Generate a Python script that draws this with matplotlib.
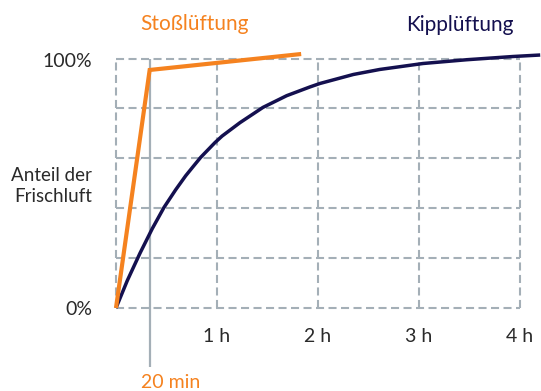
import matplotlib
matplotlib.use("Agg")
import matplotlib.pyplot as plt

plt.rcParams["font.family"] = ["Lato", "DejaVu Sans"]
plt.rcParams["lines.scale_dashes"] = False

# Fresh-air share (%) over time (hours)
stoss_t = [0.0, 20 / 60, 110 / 60]
stoss_p = [0.0, 95.4, 101.8]

kipp_t = [0.0, 0.112, 0.238, 0.359, 0.475, 0.591, 0.690, 0.762, 0.839, 0.98,
          1.05, 1.228, 1.455, 1.69, 1.92, 2.02, 2.35, 2.61, 3.04, 3.47,
          3.93, 4.20]
kipp_p = [0.0, 11.0, 22.0, 31.8, 40.3, 47.4, 53.0, 56.6, 60.4, 66.3,
          68.9, 74.3, 80.4, 85.1, 88.6, 90.0, 93.6, 95.6, 98.0, 99.5,
          100.8, 101.4]

hour_ticks = [1, 2, 3, 4]
hour_labels = ["1 h", "2 h", "3 h", "4 h"]
grid_hours = [0, 1, 2, 3, 4]
grid_pct = [0, 20, 40, 60, 80, 100]
marker_t = 20 / 60
marker_label = "20 min"

ORANGE = "#f5821f"
NAVY = "#14104f"
GRID = "#a4afb7"
TEXT = "#2a2a2a"

fig = plt.figure(figsize=(5.41, 3.91), dpi=100)
ax = fig.add_axes([0, 0, 1, 1])
ax.set_xlim(-1.1485, 4.2079)
ax.set_ylim(-33.27, 123.45)
ax.axis("off")

dash = (0, (5.8, 3.2))
for h in grid_hours:
    ax.plot([h, h], [0, 100], color=GRID, lw=1.5, linestyle=dash, zorder=1)
for p in grid_pct:
    ax.plot([0, 4], [p, p], color=GRID, lw=1.5, linestyle=dash, zorder=1)

# solid marker line at 20 minutes
ax.plot([marker_t, marker_t], [100, -23.6], color=GRID, lw=1.6, zorder=1,
        solid_capstyle="butt")

ax.plot(kipp_t, kipp_p, color=NAVY, lw=2.5, zorder=3, solid_capstyle="butt",
        solid_joinstyle="round", clip_on=False)
ax.plot(stoss_t, stoss_p, color=ORANGE, lw=3.0, zorder=4, solid_capstyle="butt",
        solid_joinstyle="miter")

for t, lab in zip(hour_ticks, hour_labels):
    ax.text(t, -11.6, lab, ha="center", va="center", fontsize=14, color=TEXT)

ax.text(marker_t - 0.09, -30.0, marker_label, ha="left", va="center",
        fontsize=14, color=ORANGE)

ax.text(-0.238, 98.6, "100%", ha="right", va="center", fontsize=14, color=TEXT)
ax.text(-0.238, -0.8, "0%", ha="right", va="center", fontsize=14, color=TEXT)
ax.text(-0.238, 48.9, "Anteil der\nFrischluft", ha="right", va="center",
        fontsize=13.5, color=TEXT, linespacing=1.25, multialignment="right")

ax.text(0.78, 113.8, "Stoßlüftung", ha="center", va="center", fontsize=15,
        color=ORANGE)
ax.text(3.4, 113.4, "Kipplüftung", ha="center", va="center", fontsize=15,
        color=NAVY)

fig.savefig("out.png", dpi=100)
